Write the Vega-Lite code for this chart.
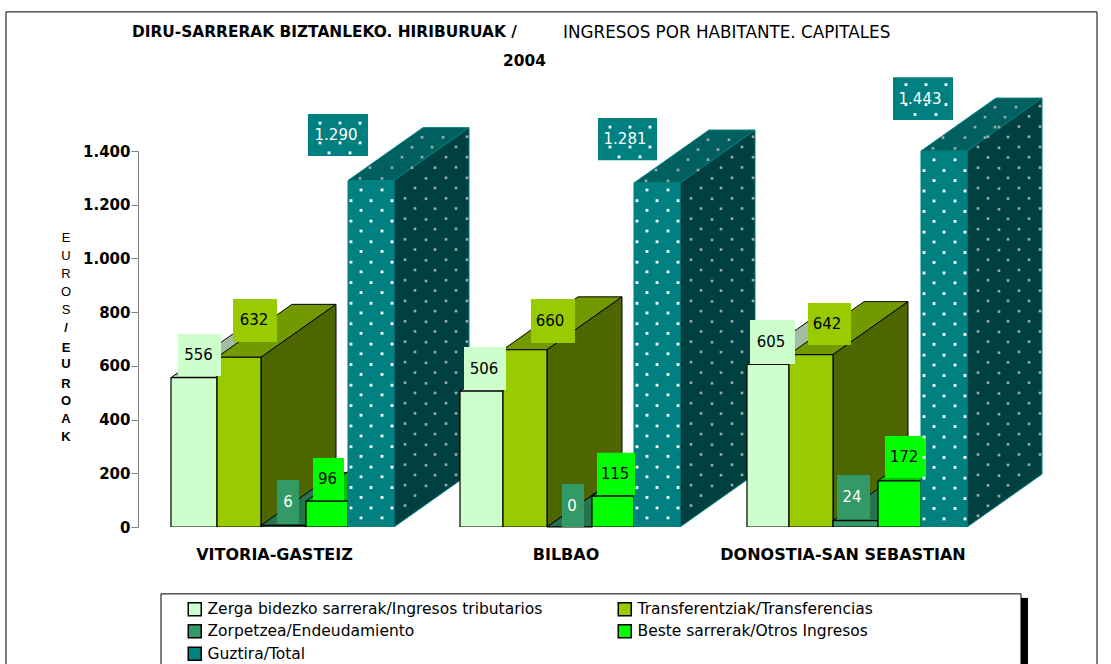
{"$schema":"https://vega.github.io/schema/vega-lite/v6.json","width":973,"height":376,"autosize":"none","padding":{"left":138,"top":151,"right":0,"bottom":137},"background":"white","config":{"view":{"stroke":null}},
"datasets":{
"bars":[
{"city":"VITORIA-GASTEIZ","series":"Zerga bidezko sarrerak/Ingresos tributarios","value":556,"x0":171,"x1":217},
{"city":"VITORIA-GASTEIZ","series":"Transferentziak/Transferencias","value":632,"x0":217,"x1":261},
{"city":"VITORIA-GASTEIZ","series":"Zorpetzea/Endeudamiento","value":6,"x0":261,"x1":306},
{"city":"VITORIA-GASTEIZ","series":"Beste sarrerak/Otros Ingresos","value":96,"x0":306,"x1":348},
{"city":"VITORIA-GASTEIZ","series":"Guztira/Total","value":1290,"x0":348,"x1":394},
{"city":"BILBAO","series":"Zerga bidezko sarrerak/Ingresos tributarios","value":506,"x0":460,"x1":503},
{"city":"BILBAO","series":"Transferentziak/Transferencias","value":660,"x0":503,"x1":547},
{"city":"BILBAO","series":"Zorpetzea/Endeudamiento","value":0,"x0":547,"x1":592},
{"city":"BILBAO","series":"Beste sarrerak/Otros Ingresos","value":115,"x0":592,"x1":634},
{"city":"BILBAO","series":"Guztira/Total","value":1281,"x0":634,"x1":680},
{"city":"DONOSTIA-SAN SEBASTIAN","series":"Zerga bidezko sarrerak/Ingresos tributarios","value":605,"x0":747,"x1":789},
{"city":"DONOSTIA-SAN SEBASTIAN","series":"Transferentziak/Transferencias","value":642,"x0":789,"x1":833},
{"city":"DONOSTIA-SAN SEBASTIAN","series":"Zorpetzea/Endeudamiento","value":24,"x0":833,"x1":878},
{"city":"DONOSTIA-SAN SEBASTIAN","series":"Beste sarrerak/Otros Ingresos","value":172,"x0":878,"x1":921},
{"city":"DONOSTIA-SAN SEBASTIAN","series":"Guztira/Total","value":1443,"x0":921,"x1":967}
],
"faces":[
{"id":"1At","k":"A","f":"A top","x":171,"y":556,"y2":556},{"id":"1At","k":"A","f":"A top","x":217,"y":556,"y2":677},{"id":"1At","k":"A","f":"A top","x":246,"y":632,"y2":753},{"id":"1At","k":"A","f":"A top","x":292,"y":753,"y2":753},
{"id":"1As","k":"A","f":"A side","x":217,"y":0,"y2":556},{"id":"1As","k":"A","f":"A side","x":292,"y":197,"y2":753},
{"id":"1Bt","k":"B","f":"B top","x":217,"y":632,"y2":632},{"id":"1Bt","k":"B","f":"B top","x":261,"y":632,"y2":748},{"id":"1Bt","k":"B","f":"B top","x":292,"y":713,"y2":829},{"id":"1Bt","k":"B","f":"B top","x":336,"y":829,"y2":829},
{"id":"1Bs","k":"B","f":"B side","x":261,"y":0,"y2":632},{"id":"1Bs","k":"B","f":"B side","x":336,"y":197,"y2":829},
{"id":"1Ct","k":"C","f":"C top","x":261,"y":6,"y2":6},{"id":"1Ct","k":"C","f":"C top","x":306,"y":6,"y2":124},{"id":"1Ct","k":"C","f":"C top","x":336,"y":85,"y2":203},{"id":"1Ct","k":"C","f":"C top","x":381,"y":203,"y2":203},
{"id":"1Cs","k":"C","f":"C side","x":306,"y":0,"y2":6},{"id":"1Cs","k":"C","f":"C side","x":381,"y":197,"y2":203},
{"id":"1Dt","k":"D","f":"D top","x":306,"y":96,"y2":96},{"id":"1Dt","k":"D","f":"D top","x":348,"y":96,"y2":206},{"id":"1Dt","k":"D","f":"D top","x":381,"y":183,"y2":293},{"id":"1Dt","k":"D","f":"D top","x":423,"y":293,"y2":293},
{"id":"1Ds","k":"D","f":"D side","x":348,"y":0,"y2":96},{"id":"1Ds","k":"D","f":"D side","x":423,"y":197,"y2":293},
{"id":"1Et","k":"E","f":"E top","x":348,"y":1290,"y2":1290},{"id":"1Et","k":"E","f":"E top","x":394,"y":1290,"y2":1411},{"id":"1Et","k":"E","f":"E top","x":423,"y":1366,"y2":1487},{"id":"1Et","k":"E","f":"E top","x":469,"y":1487,"y2":1487},
{"id":"1Es","k":"E","f":"E side","x":394,"y":0,"y2":1290},{"id":"1Es","k":"E","f":"E side","x":469,"y":197,"y2":1487},
{"id":"2At","k":"A","f":"A top","x":460,"y":506,"y2":506},{"id":"2At","k":"A","f":"A top","x":503,"y":506,"y2":619},{"id":"2At","k":"A","f":"A top","x":535,"y":590,"y2":703},{"id":"2At","k":"A","f":"A top","x":578,"y":703,"y2":703},
{"id":"2As","k":"A","f":"A side","x":503,"y":0,"y2":506},{"id":"2As","k":"A","f":"A side","x":578,"y":197,"y2":703},
{"id":"2Bt","k":"B","f":"B top","x":503,"y":660,"y2":660},{"id":"2Bt","k":"B","f":"B top","x":547,"y":660,"y2":776},{"id":"2Bt","k":"B","f":"B top","x":578,"y":741,"y2":857},{"id":"2Bt","k":"B","f":"B top","x":622,"y":857,"y2":857},
{"id":"2Bs","k":"B","f":"B side","x":547,"y":0,"y2":660},{"id":"2Bs","k":"B","f":"B side","x":622,"y":197,"y2":857},
{"id":"2Ct","k":"C","f":"C top","x":547,"y":0,"y2":0},{"id":"2Ct","k":"C","f":"C top","x":592,"y":0,"y2":118},{"id":"2Ct","k":"C","f":"C top","x":622,"y":79,"y2":197},{"id":"2Ct","k":"C","f":"C top","x":667,"y":197,"y2":197},
{"id":"2Dt","k":"D","f":"D top","x":592,"y":115,"y2":115},{"id":"2Dt","k":"D","f":"D top","x":634,"y":115,"y2":225},{"id":"2Dt","k":"D","f":"D top","x":667,"y":202,"y2":312},{"id":"2Dt","k":"D","f":"D top","x":709,"y":312,"y2":312},
{"id":"2Ds","k":"D","f":"D side","x":634,"y":0,"y2":115},{"id":"2Ds","k":"D","f":"D side","x":709,"y":197,"y2":312},
{"id":"2Et","k":"E","f":"E top","x":634,"y":1281,"y2":1281},{"id":"2Et","k":"E","f":"E top","x":680,"y":1281,"y2":1402},{"id":"2Et","k":"E","f":"E top","x":709,"y":1357,"y2":1478},{"id":"2Et","k":"E","f":"E top","x":755,"y":1478,"y2":1478},
{"id":"2Es","k":"E","f":"E side","x":680,"y":0,"y2":1281},{"id":"2Es","k":"E","f":"E side","x":755,"y":197,"y2":1478},
{"id":"3At","k":"A","f":"A top","x":747,"y":605,"y2":605},{"id":"3At","k":"A","f":"A top","x":789,"y":605,"y2":715},{"id":"3At","k":"A","f":"A top","x":822,"y":692,"y2":802},{"id":"3At","k":"A","f":"A top","x":864,"y":802,"y2":802},
{"id":"3As","k":"A","f":"A side","x":789,"y":0,"y2":605},{"id":"3As","k":"A","f":"A side","x":864,"y":197,"y2":802},
{"id":"3Bt","k":"B","f":"B top","x":789,"y":642,"y2":642},{"id":"3Bt","k":"B","f":"B top","x":833,"y":642,"y2":758},{"id":"3Bt","k":"B","f":"B top","x":864,"y":723,"y2":839},{"id":"3Bt","k":"B","f":"B top","x":908,"y":839,"y2":839},
{"id":"3Bs","k":"B","f":"B side","x":833,"y":0,"y2":642},{"id":"3Bs","k":"B","f":"B side","x":908,"y":197,"y2":839},
{"id":"3Ct","k":"C","f":"C top","x":833,"y":24,"y2":24},{"id":"3Ct","k":"C","f":"C top","x":878,"y":24,"y2":142},{"id":"3Ct","k":"C","f":"C top","x":908,"y":103,"y2":221},{"id":"3Ct","k":"C","f":"C top","x":953,"y":221,"y2":221},
{"id":"3Cs","k":"C","f":"C side","x":878,"y":0,"y2":24},{"id":"3Cs","k":"C","f":"C side","x":953,"y":197,"y2":221},
{"id":"3Dt","k":"D","f":"D top","x":878,"y":172,"y2":172},{"id":"3Dt","k":"D","f":"D top","x":921,"y":172,"y2":285},{"id":"3Dt","k":"D","f":"D top","x":953,"y":256,"y2":369},{"id":"3Dt","k":"D","f":"D top","x":996,"y":369,"y2":369},
{"id":"3Ds","k":"D","f":"D side","x":921,"y":0,"y2":172},{"id":"3Ds","k":"D","f":"D side","x":996,"y":197,"y2":369},
{"id":"3Et","k":"E","f":"E top","x":921,"y":1400,"y2":1400},{"id":"3Et","k":"E","f":"E top","x":967,"y":1400,"y2":1521},{"id":"3Et","k":"E","f":"E top","x":996,"y":1476,"y2":1597},{"id":"3Et","k":"E","f":"E top","x":1042,"y":1597,"y2":1597},
{"id":"3Es","k":"E","f":"E side","x":967,"y":0,"y2":1400},{"id":"3Es","k":"E","f":"E side","x":1042,"y":197,"y2":1597}
],
"sideDots":[
{"x":405,"ys":[1224,1148,1071,995,919,842,766,690,614,537,461,385,308,232,156,80]},
{"x":415,"ys":[1262,1186,1110,1033,957,881,804,728,652,575,499,423,346,270,194,117]},
{"x":426,"ys":[1298,1222,1145,1069,993,916,840,764,688,611,535,459,382,306,230,153]},
{"x":435,"ys":[1338,1262,1185,1109,1033,956,880,804,728,651,575,499,422,346,270,193]},
{"x":446,"ys":[1377,1300,1224,1148,1071,995,919,842,766,690,614,537,461,385,308,232,156]},
{"x":456,"ys":[1415,1339,1262,1186,1110,1033,957,881,804,728,652,575,499,423,346,270,194]},
{"x":467,"ys":[1453,1377,1300,1224,1148,1071,995,919,842,766,690,614,537,461,385,308,232]},
{"x":691,"ys":[1224,1148,1071,995,919,842,766,690,614,537,461,385,308,232,156,80]},
{"x":701,"ys":[1262,1186,1110,1033,957,881,804,728,652,575,499,423,346,270,194,117]},
{"x":712,"ys":[1298,1222,1145,1069,993,916,840,764,688,611,535,459,382,306,230,153]},
{"x":721,"ys":[1338,1262,1185,1109,1033,956,880,804,728,651,575,499,422,346,270,193]},
{"x":732,"ys":[1377,1300,1224,1148,1071,995,919,842,766,690,614,537,461,385,308,232,156]},
{"x":742,"ys":[1415,1339,1262,1186,1110,1033,957,881,804,728,652,575,499,423,346,270,194]},
{"x":753,"ys":[1453,1377,1300,1224,1148,1071,995,919,842,766,690,614,537,461,385,308,232]},
{"x":978,"ys":[1415,1338,1262,1186,1109,1033,957,880,804,728,652,575,499,423,346,270,194,118,42]},
{"x":988,"ys":[1453,1376,1300,1224,1148,1071,995,919,842,766,690,613,537,461,384,308,232,155,79]},
{"x":999,"ys":[1489,1412,1336,1260,1183,1107,1031,954,878,802,726,649,573,497,420,344,268,191,115]},
{"x":1008,"ys":[1452,1376,1300,1223,1147,1071,994,918,842,766,689,613,537,460,384,308,231,155]},
{"x":1019,"ys":[1491,1415,1338,1262,1186,1109,1033,957,880,804,728,652,575,499,423,346,270,194]},
{"x":1029,"ys":[1529,1453,1377,1300,1224,1148,1071,995,919,842,766,690,613,537,461,384,308,232]},
{"x":1040,"ys":[1567,1491,1415,1338,1262,1186,1109,1033,957,880,804,728,652,575,499,423,346,270]},
{"x":360,"ys":[1298]},{"x":370,"ys":[1338]},{"x":382,"ys":[1298]},{"x":392,"ys":[1338]},{"x":402,"ys":[1377]},{"x":412,"ys":[1414,1338]},{"x":422,"ys":[1451,1377]},{"x":432,"ys":[1414]},{"x":443,"ys":[1451]},
{"x":646,"ys":[1289]},{"x":656,"ys":[1329]},{"x":668,"ys":[1289]},{"x":678,"ys":[1329]},{"x":688,"ys":[1368]},{"x":698,"ys":[1405,1329]},{"x":708,"ys":[1442,1368]},{"x":718,"ys":[1405]},{"x":729,"ys":[1442]},
{"x":933,"ys":[1410]},{"x":943,"ys":[1450]},{"x":955,"ys":[1410]},{"x":965,"ys":[1450]},{"x":975,"ys":[1489]},{"x":985,"ys":[1526,1450]},{"x":995,"ys":[1563,1489]},{"x":1005,"ys":[1526]},{"x":1016,"ys":[1563]}
],
"frontDots":[
{"x":351,"ys":[1215,1139,1062,986,910,833,757,681,605,528,452,376,299,223,147,71]},
{"x":361,"ys":[1255,1179,1102,1026,950,873,797,721,645,568,492,416,339,263,187,110,34]},
{"x":371,"ys":[1215,1139,1062,986,910,833,757,681,605,528,452,376,299,223,147,71]},
{"x":382,"ys":[1255,1179,1102,1026,950,873,797,721,645,568,492,416,339,263,187,110,34]},
{"x":392,"ys":[1215,1139,1062,986,910,833,757,681,605,528,452,376,299,223,147,71]},
{"x":637,"ys":[1215,1139,1062,986,910,833,757,681,605,528,452,376,299,223,147,71]},
{"x":647,"ys":[1255,1179,1102,1026,950,873,797,721,645,568,492,416,339,263,187,110,34]},
{"x":657,"ys":[1215,1139,1062,986,910,833,757,681,605,528,452,376,299,223,147,71]},
{"x":668,"ys":[1255,1179,1102,1026,950,873,797,721,645,568,492,416,339,263,187,110,34]},
{"x":678,"ys":[1215,1139,1062,986,910,833,757,681,605,528,452,376,299,223,147,71]},
{"x":924,"ys":[1327,1251,1175,1098,1022,946,869,793,717,640,564,488,411,335,259,182,106,30]},
{"x":934,"ys":[1367,1290,1214,1138,1061,985,909,832,756,680,603,527,451,374,298,222,145,69]},
{"x":944,"ys":[1327,1251,1175,1098,1022,946,869,793,717,640,564,488,411,335,259,182,106,30]},
{"x":955,"ys":[1367,1290,1214,1138,1061,985,909,832,756,680,603,527,451,374,298,222,145,69]},
{"x":965,"ys":[1327,1251,1175,1098,1022,946,869,793,717,640,564,488,411,335,259,182,106,30]},
{"x":320,"ys":[1504,1430]},{"x":340,"ys":[1504,1430]},{"x":360,"ys":[1504,1430]},{"x":329,"ys":[1393]},{"x":350,"ys":[1393]},
{"x":610,"ys":[1489,1415]},{"x":630,"ys":[1489,1415]},{"x":650,"ys":[1489,1415]},{"x":619,"ys":[1378]},{"x":640,"ys":[1378]},
{"x":906,"ys":[1647,1573]},{"x":926,"ys":[1647,1573]},{"x":946,"ys":[1647,1573]},{"x":915,"ys":[1536]},{"x":936,"ys":[1536]}
],
"boxes":[
{"series":"Zerga bidezko sarrerak/Ingresos tributarios","label":"556","x0":178,"x1":221,"y0":562,"y1":719,"xc":198.5,"yc":640},
{"series":"Transferentziak/Transferencias","label":"632","x0":233,"x1":277,"y0":689,"y1":849,"xc":254,"yc":769},
{"series":"Zorpetzea/Endeudamiento","label":"6","x0":277,"x1":299,"y0":11,"y1":175,"xc":288,"yc":93},
{"series":"Beste sarrerak/Otros Ingresos","label":"96","x0":313,"x1":344,"y0":100,"y1":257,"xc":327.5,"yc":178},
{"series":"Guztira/Total","label":"1.290","x0":308,"x1":368,"y0":1381,"y1":1538,"xc":336,"yc":1459},
{"series":"Zerga bidezko sarrerak/Ingresos tributarios","label":"506","x0":464,"x1":506,"y0":510,"y1":670,"xc":484,"yc":590},
{"series":"Transferentziak/Transferencias","label":"660","x0":531,"x1":575,"y0":685,"y1":849,"xc":550,"yc":767},
{"series":"Zorpetzea/Endeudamiento","label":"0","x0":562,"x1":584,"y0":0,"y1":160,"xc":572,"yc":80},
{"series":"Beste sarrerak/Otros Ingresos","label":"115","x0":597,"x1":635,"y0":119,"y1":276,"xc":615,"yc":197},
{"series":"Guztira/Total","label":"1.281","x0":598,"x1":657,"y0":1366,"y1":1523,"xc":625,"yc":1444},
{"series":"Zerga bidezko sarrerak/Ingresos tributarios","label":"605","x0":750,"x1":795,"y0":607,"y1":771,"xc":771,"yc":689},
{"series":"Transferentziak/Transferencias","label":"642","x0":808,"x1":851,"y0":678,"y1":834,"xc":827,"yc":756},
{"series":"Zorpetzea/Endeudamiento","label":"24","x0":837,"x1":870,"y0":30,"y1":194,"xc":852,"yc":112},
{"series":"Beste sarrerak/Otros Ingresos","label":"172","x0":885,"x1":926,"y0":182,"y1":339,"xc":904,"yc":260},
{"series":"Guztira/Total","label":"1.443","x0":893,"x1":953,"y0":1515,"y1":1675,"xc":920,"yc":1595}
],
"letters":[
{"t":"E","w":"r","y":1076},{"t":"U","w":"r","y":1009},{"t":"R","w":"r","y":942},{"t":"O","w":"r","y":875},{"t":"S","w":"r","y":808},
{"t":"/","w":"b","y":741},{"t":"E","w":"b","y":666},{"t":"U","w":"b","y":607},{"t":"R","w":"b","y":532},{"t":"O","w":"b","y":469},{"t":"A","w":"b","y":402},{"t":"K","w":"b","y":335}
],
"cities":[{"t":"VITORIA-GASTEIZ","x":274.5},{"t":"BILBAO","x":566},{"t":"DONOSTIA-SAN SEBASTIAN","x":843}],
"frame":[{"x0":6,"x1":1097,"y0":-600,"y1":1918}],
"panel":[{"x0":161,"x1":1021,"y0":-540,"y1":-249}],
"shadow":[{"x0":1021,"x1":1028,"y0":-540,"y1":-264}],
"titles":[
{"t":"DIRU-SARRERAK BIZTANLEKO. HIRIBURUAK /","x":132,"y":1843,"w":"b"},
{"t":"INGRESOS POR HABITANTE. CAPITALES","x":563,"y":1839,"w":"r"},
{"t":"2004","x":503,"y":1735,"w":"b"}
]
},
"layer":[
{"data":{"name":"frame"},"mark":{"type":"rect","fill":"transparent","stroke":"#000","strokeWidth":1},
 "encoding":{"x":{"field":"x0","type":"quantitative","scale":{"domain":[138,1111],"nice":false,"zero":false},"axis":null},"x2":{"field":"x1"},
 "y":{"field":"y0","type":"quantitative","scale":{"domain":[0,1400],"nice":false},
 "axis":{"title":null,"zindex":1,"values":[0,200,400,600,800,1000,1200,1400],"grid":false,"domainColor":"#808080","tickColor":"#808080","tickSize":7,"labelPadding":1,"labelColor":"#000","labelFont":"DejaVu Sans","labelFontSize":15,"labelFontWeight":"bold","labelExpr":"replace(format(datum.value,','),',','.')"}},"y2":{"field":"y1"}}},
{"data":{"name":"shadow"},"mark":{"type":"rect","fill":"#000"},"encoding":{"x":{"field":"x0","type":"quantitative"},"x2":{"field":"x1"},"y":{"field":"y0","type":"quantitative"},"y2":{"field":"y1"}}},
{"data":{"name":"panel"},"mark":{"type":"rect","fill":"white","stroke":"#000","strokeWidth":1},"encoding":{"x":{"field":"x0","type":"quantitative"},"x2":{"field":"x1"},"y":{"field":"y0","type":"quantitative"},"y2":{"field":"y1"}}},
{"data":{"name":"faces"},"mark":{"type":"area","orient":"vertical","strokeWidth":1},
 "encoding":{"x":{"field":"x","type":"quantitative"},"y":{"field":"y","type":"quantitative"},"y2":{"field":"y2"},"detail":{"field":"id"},
 "fill":{"field":"f","type":"nominal","legend":null,"scale":{"domain":["A top","A side","B top","B side","C top","C side","D top","D side","E top","E side"],"range":["#A3BFA3","#7FA07F","#739900","#4D6600","#267350","#1A4D33","#00BF00","#008000","#006060","#004040"]}},
 "stroke":{"condition":{"test":"datum.k==='E'","value":"#008080"},"value":"#000000"}}},
{"data":{"name":"sideDots"},"transform":[{"flatten":["ys"]}],"mark":{"type":"point","shape":"square","filled":true,"size":7,"color":"#9AA8A8","opacity":1},
 "encoding":{"x":{"field":"x","type":"quantitative"},"y":{"field":"ys","type":"quantitative"}}},
{"data":{"name":"bars"},"transform":[{"filter":"datum.series!=='Guztira/Total'"}],"mark":{"type":"rect","clip":true,"stroke":"#000","strokeWidth":1.2},
 "encoding":{"x":{"field":"x0","type":"quantitative"},"x2":{"field":"x1"},"y":{"field":"value","type":"quantitative"},"y2":{"datum":0},
 "color":{"field":"series","type":"nominal","scale":{"domain":["Zerga bidezko sarrerak/Ingresos tributarios","Transferentziak/Transferencias","Zorpetzea/Endeudamiento","Beste sarrerak/Otros Ingresos","Guztira/Total"],"range":["#CCFFCC","#99CC00","#339966","#00FF00","#008080"]},
 "legend":{"title":null,"orient":"none","legendX":49,"legendY":450,"direction":"horizontal","columns":2,"columnPadding":72,"rowPadding":2.5,"symbolType":"square","symbolSize":169,"symbolStrokeWidth":1.5,"labelFont":"DejaVu Sans","labelFontSize":15.5,"labelColor":"#000","labelLimit":400,"labelOffset":5,"symbolOpacity":1,"encode":{"symbols":{"update":{"stroke":{"value":"#000000"}}}}}}}},
{"data":{"name":"bars"},"transform":[{"filter":"datum.series==='Guztira/Total'"}],"mark":{"type":"rect","clip":true,"stroke":"#008080","strokeWidth":1},
 "encoding":{"x":{"field":"x0","type":"quantitative"},"x2":{"field":"x1"},"y":{"field":"value","type":"quantitative"},"y2":{"datum":0},"color":{"field":"series","type":"nominal"}}},
{"data":{"name":"boxes"},"mark":{"type":"rect"},
 "encoding":{"x":{"field":"x0","type":"quantitative"},"x2":{"field":"x1"},"y":{"field":"y0","type":"quantitative"},"y2":{"field":"y1"},"color":{"field":"series","type":"nominal"}}},
{"data":{"name":"frontDots"},"transform":[{"flatten":["ys"]}],"mark":{"type":"point","shape":"square","filled":true,"size":8,"color":"#FFFFFF","opacity":1},
 "encoding":{"x":{"field":"x","type":"quantitative"},"y":{"field":"ys","type":"quantitative"}}},
{"data":{"name":"boxes"},"transform":[{"filter":"datum.series==='Zorpetzea/Endeudamiento'||datum.series==='Guztira/Total'"}],"mark":{"type":"text","font":"DejaVu Sans","fontSize":15,"color":"#FFFFFF"},
 "encoding":{"x":{"field":"xc","type":"quantitative"},"y":{"field":"yc","type":"quantitative"},"text":{"field":"label"}}},
{"data":{"name":"boxes"},"transform":[{"filter":"datum.series!=='Zorpetzea/Endeudamiento'&&datum.series!=='Guztira/Total'"}],"mark":{"type":"text","font":"DejaVu Sans","fontSize":15,"color":"#000000"},
 "encoding":{"x":{"field":"xc","type":"quantitative"},"y":{"field":"yc","type":"quantitative"},"text":{"field":"label"}}},
{"data":{"name":"letters"},"transform":[{"filter":"datum.w==='r'"}],"mark":{"type":"text","font":"Liberation Sans","fontSize":13,"color":"#000"},
 "encoding":{"x":{"datum":66},"y":{"field":"y","type":"quantitative"},"text":{"field":"t"}}},
{"data":{"name":"letters"},"transform":[{"filter":"datum.w==='b'"}],"mark":{"type":"text","font":"Liberation Sans","fontSize":13,"fontWeight":"bold","color":"#000"},
 "encoding":{"x":{"datum":66},"y":{"field":"y","type":"quantitative"},"text":{"field":"t"}}},
{"data":{"name":"cities"},"mark":{"type":"text","font":"DejaVu Sans","fontSize":16,"fontWeight":"bold","color":"#000"},
 "encoding":{"x":{"field":"x","type":"quantitative"},"y":{"datum":-104},"text":{"field":"t"}}},
{"data":{"name":"titles"},"transform":[{"filter":"datum.w==='b'"}],"mark":{"type":"text","align":"left","font":"DejaVu Sans","fontSize":15.4,"fontWeight":"bold","color":"#000"},
 "encoding":{"x":{"field":"x","type":"quantitative"},"y":{"field":"y","type":"quantitative"},"text":{"field":"t"}}},
{"data":{"name":"titles"},"transform":[{"filter":"datum.w==='r'"}],"mark":{"type":"text","align":"left","font":"DejaVu Sans","fontSize":16.8,"color":"#000"},
 "encoding":{"x":{"field":"x","type":"quantitative"},"y":{"field":"y","type":"quantitative"},"text":{"field":"t"}}}
]}
